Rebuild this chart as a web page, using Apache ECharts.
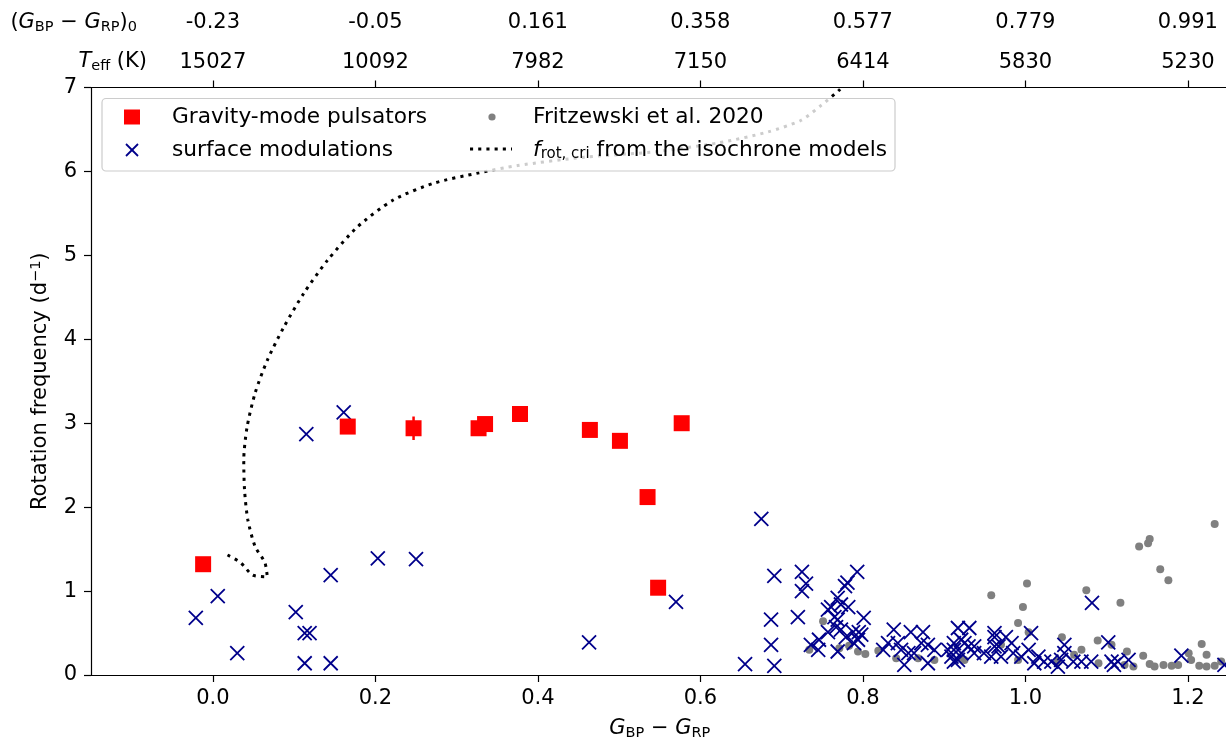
<!DOCTYPE html>
<html><head><meta charset="utf-8">
<script src="https://cdn.jsdelivr.net/npm/echarts@6/dist/echarts.min.js"></script>
<style>html,body{margin:0;padding:0;background:#fff}#c{width:1226px;height:742px}</style>
</head><body><div id="c"></div>
<script>
// ---- tick labels ----
const tickValues = [0, 0.2, 0.4, 0.6, 0.8, 1.0, 1.2];
const bottomTickLabels = ['0.0', '0.2', '0.4', '0.6', '0.8', '1.0', '1.2'];
const topColorLabels = ['-0.23', '-0.05', '0.161', '0.358', '0.577', '0.779', '0.991'];
const teffLabels = ['15027', '10092', '7982', '7150', '6414', '5830', '5230'];

// ---- Gravity-mode pulsators ----
const gmodeX = [-0.012, 0.166, 0.247, 0.327, 0.335, 0.378, 0.464, 0.501, 0.535, 0.548, 0.577];
const gmodeY = [1.32, 2.96, 2.94, 2.94, 2.99, 3.11, 2.92, 2.79, 2.12, 1.04, 3.00];
const gmodeErr = [0.02, 0.03, 0.14, 0.06, 0.02, 0.03, 0.03, 0.02, 0.02, 0.02, 0.03];

// ---- surface modulations ----
const surfX = [0.161,0.115,0.203,0.250,0.145,0.006,-0.021,0.102,0.113,0.119,0.030,0.113,0.145,0.463,0.570,
  0.675,0.691,0.687,0.687,0.691,0.655,0.725,0.730,0.725,0.720,0.793,0.781,0.801,0.778,0.769,0.761,0.757,
  0.773,0.782,0.765,0.769,0.767,0.773,0.779,0.757,0.746,0.736,0.745,0.769,0.788,0.795,0.794,0.798,0.789,
  0.838,0.859,0.874,0.831,0.843,0.825,0.847,0.856,0.872,0.880,0.863,0.888,0.905,0.917,0.931,0.912,0.925,
  0.909,0.921,0.937,0.851,0.880,0.912,0.949,0.958,0.962,0.967,0.921,0.912,0.930,0.937,0.917,0.962,0.976,
  0.983,0.962,0.970,0.985,1.007,1.004,0.995,1.016,1.023,1.011,1.032,1.040,1.048,1.048,1.044,1.059,1.069,
  1.082,1.081,1.102,1.106,1.114,1.127,1.109,1.192,1.245];
const surfY = [3.13,2.87,1.39,1.38,1.19,0.94,0.68,0.75,0.50,0.50,0.26,0.14,0.14,0.39,0.87,
  1.86,1.18,0.66,0.36,0.11,0.13,1.23,1.09,1.00,0.69,1.23,1.10,0.68,1.06,0.92,0.81,0.78,
  0.84,0.81,0.69,0.66,0.57,0.54,0.45,0.51,0.42,0.36,0.30,0.28,0.51,0.51,0.42,0.48,0.38,
  0.54,0.51,0.51,0.38,0.38,0.30,0.30,0.26,0.38,0.36,0.26,0.30,0.30,0.56,0.56,0.38,0.38,
  0.22,0.26,0.34,0.12,0.14,0.16,0.26,0.22,0.45,0.34,0.42,0.30,0.34,0.26,0.18,0.50,0.45,
  0.38,0.34,0.22,0.26,0.50,0.30,0.22,0.22,0.16,0.14,0.16,0.10,0.36,0.26,0.18,0.16,0.16,
  0.86,0.16,0.39,0.16,0.16,0.18,0.12,0.23,0.12];

// ---- Fritzewski et al. 2020 ----
const fritzX = [1.233,1.153,1.151,1.140,1.166,1.176,1.002,0.958,0.997,1.075,1.117,0.991,1.004,1.045,1.089,
  1.217,1.223,1.145,1.125,1.060,1.090,1.122,1.133,1.153,1.159,1.170,1.180,1.188,1.201,1.204,1.214,1.223,
  1.233,1.241,0.921,0.991,1.040,0.751,0.734,0.794,0.803,0.771,0.783,0.819,0.841,0.868,0.888,0.925,0.970,
  1.106,1.069];
const fritzY = [1.80,1.62,1.57,1.53,1.26,1.13,1.09,0.95,0.81,1.01,0.86,0.62,0.51,0.45,0.41,
  0.37,0.24,0.23,0.28,0.24,0.14,0.12,0.10,0.13,0.10,0.12,0.11,0.12,0.26,0.18,0.11,0.10,
  0.11,0.16,0.20,0.18,0.16,0.64,0.30,0.28,0.25,0.32,0.35,0.29,0.20,0.20,0.18,0.18,0.36,
  0.36,0.30];

// ---- f_rot,cri from the isochrone models ----
const critX = [0.018,0.034,0.049,0.067,0.064,0.052,0.043,0.039,0.038,0.042,0.052,0.067,0.087,0.112,0.141,
  0.178,0.222,0.272,0.326,0.375,0.457,0.539,0.622,0.683,0.724,0.749,0.771,0.776];
const critY = [1.43,1.34,1.19,1.17,1.34,1.53,1.85,2.20,2.56,2.95,3.36,3.75,4.14,4.55,4.94,
  5.34,5.66,5.86,5.98,6.07,6.17,6.23,6.34,6.47,6.61,6.79,6.97,7.03];

const zip = (a, b) => a.map((v, i) => [v, b[i]]);
const FONT = "'DejaVu Sans', sans-serif";
const F = 21, FS = 14.5, FL = 21.7, FLS = 15;
const mkRich = (f, fs) => ({
  n: {fontSize: f, fontFamily: FONT, color: '#000', lineHeight: 24},
  i: {fontSize: f, fontFamily: FONT, fontStyle: 'italic', color: '#000', lineHeight: 24},
  s: {fontSize: fs, fontFamily: FONT, color: '#000', lineHeight: 14, verticalAlign: 'bottom'},
  p: {fontSize: fs, fontFamily: FONT, color: '#000', lineHeight: 10, verticalAlign: 'top'}
});
const rich = mkRich(F, FS);
const richL = mkRich(FL, FLS);
const idxOf = v => tickValues.findIndex(t => Math.abs(t - v) < 1e-6);
const dotted = [3.1, 5.1];

const chart = echarts.init(document.getElementById('c'), null, {renderer: 'canvas'});
chart.setOption({
  animation: false,
  backgroundColor: '#fff',
  grid: {left: 91, top: 87.5, width: 1137.5, height: 587.5, containLabel: false, outerBoundsMode: 'none'},
  xAxis: [{
    type: 'value', position: 'bottom', min: -0.15, max: 1.25,
    axisLine: {show: true, onZero: false, lineStyle: {color: '#000', width: 1.2}},
    axisTick: {show: true, inside: false, length: 7, customValues: tickValues, lineStyle: {color: '#000', width: 1.2}},
    axisLabel: {customValues: tickValues, formatter: v => bottomTickLabels[idxOf(v)], fontSize: F, fontFamily: FONT, color: '#000', margin: 13},
    splitLine: {show: false},
    name: '{i|G}{s|BP}{n| − }{i|G}{s|RP}', nameLocation: 'middle', nameGap: 42,
    nameTextStyle: {rich: rich}
  }, {
    type: 'value', position: 'top', min: -0.15, max: 1.25,
    axisLine: {show: true, onZero: false, lineStyle: {color: '#000', width: 1.2}},
    axisTick: {show: true, inside: false, length: 7, customValues: tickValues, lineStyle: {color: '#000', width: 1.2}},
    axisLabel: {customValues: tickValues, formatter: v => { const k = idxOf(v); return topColorLabels[k] + '\n' + teffLabels[k]; },
      fontSize: F, fontFamily: FONT, color: '#000', lineHeight: 40, margin: 5},
    splitLine: {show: false}
  }],
  yAxis: {
    type: 'value', min: 0, max: 7, interval: 1,
    axisLine: {show: true, onZero: false, lineStyle: {color: '#000', width: 1.2}},
    axisTick: {show: true, inside: false, length: 7, lineStyle: {color: '#000', width: 1.2}},
    axisLabel: {fontSize: F, fontFamily: FONT, color: '#000', margin: 14},
    splitLine: {show: false},
    name: '{n|Rotation frequency (d}{p|−1}{n|)}', nameLocation: 'middle', nameGap: 38,
    nameTextStyle: {rich: rich}
  },
  graphic: [
    {type: 'text', x: 137, y: 23, z: 100, style: {text: '{n|(}{i|G}{s|BP}{n| − }{i|G}{s|RP}{n|)}{s|0}', rich: rich, align: 'right', verticalAlign: 'middle'}},
    {type: 'text', x: 147, y: 62, z: 100, style: {text: '{i|T}{s|eff}{n| (K)}', rich: rich, align: 'right', verticalAlign: 'middle'}},
    {type: 'rect', z: 100, shape: {x: 102, y: 98.5, width: 793, height: 72.5, r: 4}, style: {fill: 'rgba(255,255,255,0.8)', stroke: '#cccccc', lineWidth: 1.2}},
    {type: 'rect', z: 101, shape: {x: 124, y: 109.5, width: 16, height: 15}, style: {fill: '#ff0000'}},
    {type: 'text', z: 101, x: 172, y: 117, style: {text: 'Gravity-mode pulsators', font: FL + 'px ' + FONT, fill: '#000', align: 'left', verticalAlign: 'middle'}},
    {type: 'line', z: 101, shape: {x1: 126, y1: 144, x2: 138, y2: 156}, style: {stroke: '#00008b', lineWidth: 1.8}},
    {type: 'line', z: 101, shape: {x1: 138, y1: 144, x2: 126, y2: 156}, style: {stroke: '#00008b', lineWidth: 1.8}},
    {type: 'text', z: 101, x: 172, y: 150, style: {text: 'surface modulations', font: FL + 'px ' + FONT, fill: '#000', align: 'left', verticalAlign: 'middle'}},
    {type: 'circle', z: 101, shape: {cx: 492, cy: 117, r: 3.6}, style: {fill: '#808080'}},
    {type: 'text', z: 101, x: 533, y: 117, style: {text: 'Fritzewski et al. 2020', font: FL + 'px ' + FONT, fill: '#000', align: 'left', verticalAlign: 'middle'}},
    {type: 'line', z: 101, shape: {x1: 470, y1: 149, x2: 512, y2: 149}, style: {stroke: '#000', lineWidth: 3, lineDash: dotted}},
    {type: 'text', z: 101, x: 533, y: 150, style: {text: '{i|f}{s|rot, cri}{n| from the isochrone models}', rich: richL, align: 'left', verticalAlign: 'middle'}}
  ],
  series: [
    {name: 'Fritzewski et al. 2020', type: 'scatter', z: 2, data: zip(fritzX, fritzY), symbol: 'circle', symbolSize: 8,
      itemStyle: {color: '#808080', opacity: 1}},
    {name: 'surface modulations', type: 'scatter', z: 3, data: zip(surfX, surfY), symbol: 'path://M0,0L10,10M10,0L0,10', symbolSize: 14,
      itemStyle: {color: 'rgba(0,0,0,0)', borderColor: '#00008b', borderWidth: 1.8, opacity: 1}},
    {name: 'crit', type: 'line', z: 3, data: zip(critX, critY), symbol: 'none', smooth: 0.25, clip: true,
      lineStyle: {color: '#000', width: 3, type: dotted, cap: 'butt'}},
    {name: 'err', type: 'custom', z: 4, data: gmodeX.map((x, i) => [x, gmodeY[i], gmodeErr[i]]),
      renderItem: (params, api) => {
        const x = api.value(0), y = api.value(1), e = api.value(2);
        const p1 = api.coord([x, y - e]), p2 = api.coord([x, y + e]);
        return {type: 'line', shape: {x1: p1[0], y1: p1[1], x2: p2[0], y2: p2[1]}, style: {stroke: '#ff0000', lineWidth: 2.5}};
      }},
    {name: 'Gravity-mode pulsators', type: 'scatter', z: 5, data: zip(gmodeX, gmodeY), symbol: 'rect', symbolSize: 16,
      itemStyle: {color: '#ff0000', opacity: 1}}
  ]
});
</script></body></html>
